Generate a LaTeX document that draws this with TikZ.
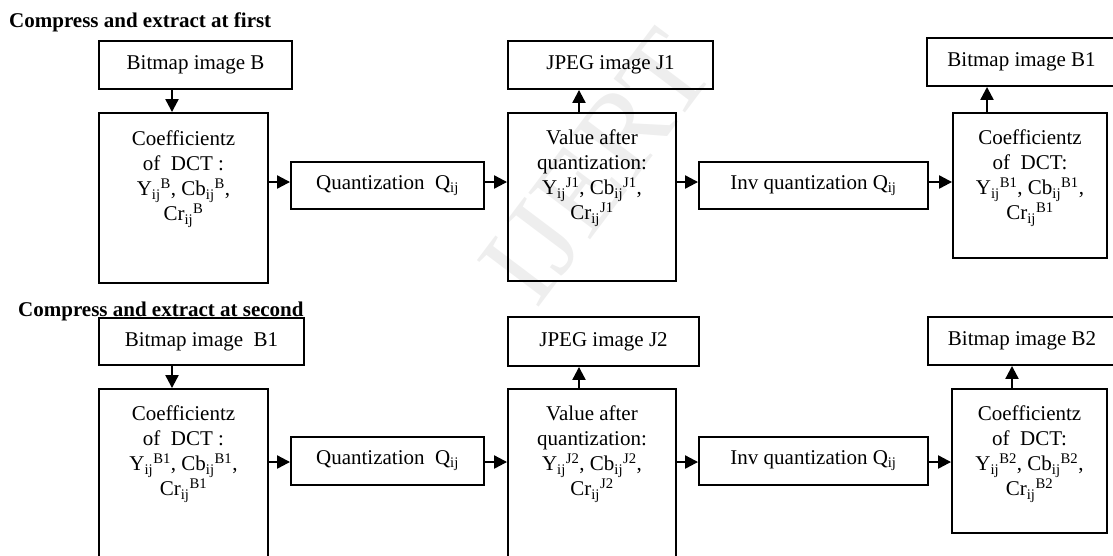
\documentclass[tikz,border=0pt]{standalone}
\usepackage{fontspec}
\setmainfont{Liberation Serif}
\usetikzlibrary{arrows.meta}
\newcommand{\subsup}[2]{#1\textsubscript{ij}\textsuperscript{#2}}
\begin{document}
\begin{tikzpicture}[x=1pt,y=-1pt,
  box/.style={draw,line width=1.9pt,rectangle,inner sep=0pt,font=\fontsize{21}{23}\selectfont},
  txt/.style={inner sep=0pt,align=center,anchor=north,font=\fontsize{21}{25}\selectfont},
  arr/.style={line width=2.2pt,-{Triangle[length=13pt,width=13pt]}},
  ttl/.style={inner sep=0pt,anchor=base west,font=\fontsize{21}{23}\selectfont\bfseries}]
\useasboundingbox (0,0) rectangle (1113,555);
\clip (0,0) rectangle (1113,555);
% watermark
\node[text=gray!13,rotate=53,inner sep=0pt,font=\fontsize{118}{118}\selectfont] (wm) at (597,167) {IJERT};
% titles
\node[ttl] (t1) at (9,27) {Compress and extract at first};
\node[ttl] (t2) at (18,316) {Compress and extract at second};
% row 1
\node[box,minimum width=193pt,minimum height=48pt] (bmpB) at (195.5,65) {Bitmap image B};
\node[box,minimum width=169pt,minimum height=170pt] (coefB) at (183.5,198) {};
\node[txt] (tcoefB) at (183.5,131) {Coefficientz\\of\ \ DCT :\\\subsup{Y}{B}, \subsup{Cb}{B},\\\subsup{Cr}{B}};
\node[box,minimum width=193pt,minimum height=47pt] (quant1) at (387.5,185.5) {Quantization\ \ Q\textsubscript{ij}};
\node[box,minimum width=168pt,minimum height=168pt] (val1) at (592,197) {};
\node[txt] (tval1) at (592,130) {Value after\\quantization:\\\subsup{Y}{J1}, \subsup{Cb}{J1},\\\subsup{Cr}{J1}};
\node[box,minimum width=205pt,minimum height=48pt] (jpg1) at (610.5,65) {JPEG image J1};
\node[box,minimum width=229pt,minimum height=47pt] (inv1) at (813.5,185.5) {Inv quantization Q\textsubscript{ij}};
\node[box,minimum width=154pt,minimum height=145pt] (coefB1) at (1030,185.5) {};
\node[txt] (tcoefB1) at (1030,130) {Coefficientz\\of\ \ DCT:\\\subsup{Y}{B1}, \subsup{Cb}{B1},\\\subsup{Cr}{B1}};
\node[box,minimum width=189pt,minimum height=48pt] (bmpB1) at (1021.5,62) {Bitmap image B1};
% row 2
\node[box,minimum width=205pt,minimum height=47pt] (bmpB1b) at (201.5,341.5) {Bitmap image\ \ B1};
\node[box,minimum width=169pt,minimum height=176pt] (coefB1b) at (183.5,477) {};
\node[txt] (tcoefB1b) at (183.5,406) {Coefficientz\\of\ \ DCT :\\\subsup{Y}{B1}, \subsup{Cb}{B1},\\\subsup{Cr}{B1}};
\node[box,minimum width=193pt,minimum height=48pt] (quant2) at (387.5,461) {Quantization\ \ Q\textsubscript{ij}};
\node[box,minimum width=168pt,minimum height=176pt] (val2) at (592,477) {};
\node[txt] (tval2) at (592,406) {Value after\\quantization:\\\subsup{Y}{J2}, \subsup{Cb}{J2},\\\subsup{Cr}{J2}};
\node[box,minimum width=191pt,minimum height=49pt] (jpg2) at (603.5,341.5) {JPEG image J2};
\node[box,minimum width=229pt,minimum height=48pt] (inv2) at (813.5,461) {Inv quantization Q\textsubscript{ij}};
\node[box,minimum width=155pt,minimum height=144pt] (coefB2) at (1029.5,461) {};
\node[txt] (tcoefB2) at (1029.5,406) {Coefficientz\\of\ \ DCT:\\\subsup{Y}{B2}, \subsup{Cb}{B2},\\\subsup{Cr}{B2}};
\node[box,minimum width=188pt,minimum height=48pt] (bmpB2) at (1022,341) {Bitmap image B2};
% arrow guides
\coordinate (r1) at (0,182);
\coordinate (r2) at (0,462);
\coordinate (a1) at (172,0);
\coordinate (a2) at (579,0);
\coordinate (a3) at (987,0);
\coordinate (a4) at (1012,0);
% arrows row 1
\draw[arr] (bmpB.south -| a1) -- (coefB.north -| a1);
\draw[arr] (coefB.east |- r1) -- (quant1.west |- r1);
\draw[arr] (quant1.east |- r1) -- (val1.west |- r1);
\draw[arr] (val1.north -| a2) -- (jpg1.south -| a2);
\draw[arr] (val1.east |- r1) -- (inv1.west |- r1);
\draw[arr] (inv1.east |- r1) -- (coefB1.west |- r1);
\draw[arr] (coefB1.north -| a3) -- (bmpB1.south -| a3);
% arrows row 2
\draw[arr] (bmpB1b.south -| a1) -- (coefB1b.north -| a1);
\draw[arr] (coefB1b.east |- r2) -- (quant2.west |- r2);
\draw[arr] (quant2.east |- r2) -- (val2.west |- r2);
\draw[arr] (val2.north -| a2) -- (jpg2.south -| a2);
\draw[arr] (val2.east |- r2) -- (inv2.west |- r2);
\draw[arr] (inv2.east |- r2) -- (coefB2.west |- r2);
\draw[arr] (coefB2.north -| a4) -- (bmpB2.south -| a4);
\end{tikzpicture}
\end{document}
